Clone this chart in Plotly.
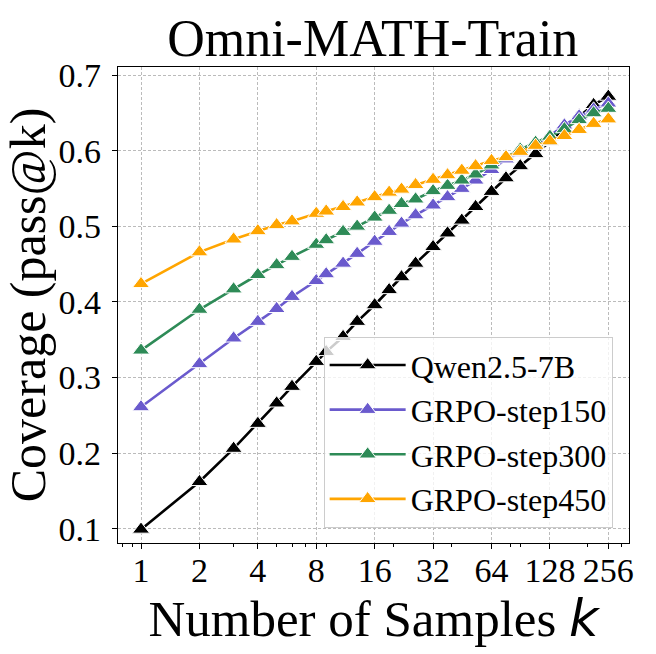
import math
import plotly.graph_objects as go

# sample counts k
ks = [1, 2, 3, 4, 5, 6, 8, 9, 11, 13, 16, 19, 22, 26, 32, 38, 45, 53, 64,
      76, 90, 108, 128, 152, 181, 215, 256]

qwen = [0.099, 0.162, 0.206, 0.239, 0.266, 0.288, 0.321, 0.334, 0.354, 0.374,
        0.396, 0.416, 0.433, 0.451, 0.473, 0.491, 0.508, 0.526, 0.546, 0.564,
        0.580, 0.596, 0.612, 0.630, 0.646, 0.661, 0.672]
step150 = [0.261, 0.318, 0.352, 0.374, 0.391, 0.407, 0.428, 0.437, 0.451, 0.464,
           0.480, 0.493, 0.504, 0.515, 0.528, 0.539, 0.550, 0.561, 0.575, 0.589,
           0.598, 0.609, 0.620, 0.634, 0.646, 0.655, 0.663]
step300 = [0.336, 0.390, 0.417, 0.436, 0.449, 0.460, 0.476, 0.482, 0.493, 0.500,
           0.512, 0.521, 0.530, 0.536, 0.547, 0.554, 0.561, 0.569, 0.581, 0.592,
           0.602, 0.611, 0.619, 0.629, 0.641, 0.650, 0.656]
step450 = [0.424, 0.466, 0.483, 0.494, 0.502, 0.507, 0.517, 0.520, 0.526, 0.532,
           0.539, 0.545, 0.549, 0.555, 0.562, 0.568, 0.574, 0.580, 0.587, 0.592,
           0.599, 0.607, 0.613, 0.620, 0.628, 0.636, 0.642]

series = [
    ("Qwen2.5-7B", qwen, "black"),
    ("GRPO-step150", step150, "#6A5ACD"),
    ("GRPO-step300", step300, "#2E8B57"),
    ("GRPO-step450", step450, "#FFA500"),
]

x_ticks = [1, 2, 4, 8, 16, 32, 64, 128, 256]
x_minor = [0.7, 0.8, 0.9, 3, 5, 6, 7, 9, 20, 40, 80, 90, 200, 300]
y_ticks = [0.1, 0.2, 0.3, 0.4, 0.5, 0.6, 0.7]

SERIF = "Liberation Serif, Times New Roman, serif"

fig = go.Figure()
for name, vals, col in series:
    fig.add_trace(go.Scatter(
        x=ks, y=vals, name=name, mode="lines+markers",
        line=dict(color=col, width=2.6),
        marker=dict(symbol="triangle-up", size=15, color=col,
                    line=dict(color="white", width=1)),
    ))

fig.update_layout(
    width=656, height=654,
    margin=dict(l=118, r=27, t=67, b=111),
    paper_bgcolor="white", plot_bgcolor="white",
    font=dict(family=SERIF, color="black"),
    title=dict(text="Omni-MATH-Train", font=dict(size=52, family=SERIF),
               x=0.5682, xanchor="center", yref="container",
               y=1 - 38 / 654, yanchor="middle"),
    legend=dict(x=0.968, y=0.032, xanchor="right", yanchor="bottom",
                bgcolor="rgba(255,255,255,0.8)", bordercolor="#cccccc",
                borderwidth=1, font=dict(size=32, family=SERIF),
                itemwidth=76),
    showlegend=True,
)

fig.update_xaxes(
    type="log",
    range=[math.log10(2 ** -0.394), math.log10(2 ** 8.354)],
    tickmode="array", tickvals=x_ticks, ticktext=[str(t) for t in x_ticks],
    ticks="outside", ticklen=5, tickwidth=1.2, tickcolor="black",
    tickfont=dict(size=34, family=SERIF), ticklabelstandoff=-8,
    minor=dict(tickmode="array", tickvals=x_minor, ticks="outside",
               ticklen=3, tickcolor="black", showgrid=False),
    showline=True, linecolor="black", linewidth=1.3, mirror=True,
    showgrid=True, gridcolor="#bbbbbb", griddash="3px,2px", gridwidth=0.8,
    zeroline=False,
    title=dict(text="Number of Samples <i><span style='font-family:DejaVu Sans'>k</span></i>",
               font=dict(size=51, family=SERIF), standoff=4),
)
fig.update_yaxes(
    range=[0.081, 0.711],
    tickmode="array", tickvals=y_ticks, ticktext=[f"{v:.1f}" for v in y_ticks],
    ticks="outside", ticklen=5, tickwidth=1.2, tickcolor="black",
    tickfont=dict(size=34, family=SERIF), ticklabelstandoff=4,
    showline=True, linecolor="black", linewidth=1.3, mirror=True,
    showgrid=True, gridcolor="#bbbbbb", griddash="3px,2px", gridwidth=0.8,
    zeroline=False,
    title=dict(text="Coverage (pass@k)", font=dict(size=50, family=SERIF),
               standoff=6),
)

# drop the default page margin so the figure sits at the window corner
fig.write_html("out.html", config={"displayModeBar": False},
               post_script="document.body.style.margin='0';")
